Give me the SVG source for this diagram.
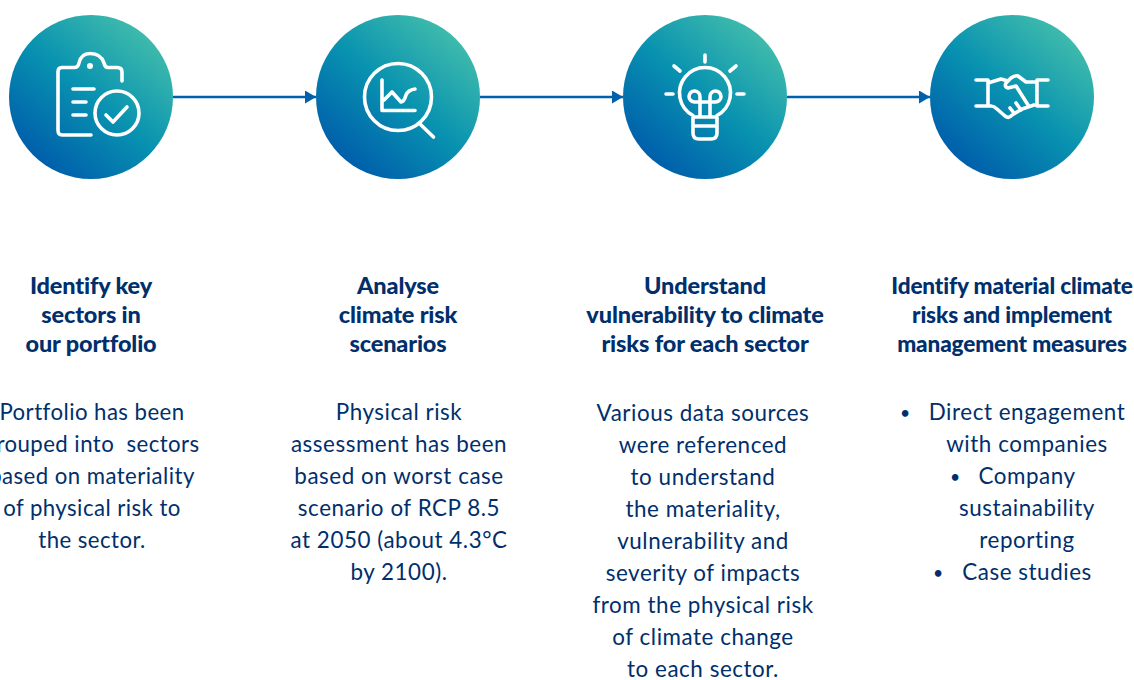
<svg xmlns="http://www.w3.org/2000/svg" width="1134" height="680" viewBox="0 0 1134 680">
<style>
.ic{fill:none;stroke:#fff;stroke-width:3.6;stroke-linecap:round;stroke-linejoin:round}
.t{font-family:Lato,"Open Sans",sans-serif;font-weight:900;font-size:23.5px;fill:#002f6c;text-anchor:middle;letter-spacing:-.15px}
.t4{font-size:22.6px}
.b{font-family:Lato,"Open Sans",sans-serif;font-size:22.4px;fill:#002f6c;text-anchor:middle;letter-spacing:.55px}
.b1{font-size:22.2px;letter-spacing:.45px}
.d{font-family:Lato,"Open Sans",sans-serif;font-size:15px;font-weight:700;fill:#002f6c;text-anchor:middle}
.c{stroke:#0060ab;stroke-width:2.6;fill:none}
</style>
<defs>
<linearGradient id="g" x1="0.2" y1="0.9" x2="0.85" y2="0.13">
<stop offset="0" stop-color="#005fab"/><stop offset="0.5" stop-color="#0892b0"/><stop offset="1" stop-color="#3fbbac"/>
</linearGradient>
<marker id="a" markerUnits="userSpaceOnUse" markerWidth="12" markerHeight="14" refX="11" refY="6.500" orient="auto"><path d="M0 0L11 6.500L0 13Z" fill="#0060ab"/></marker>
</defs>
<g id="connectors">
<path class="c" d="M173 97H316" marker-end="url(#a)"/>
<path class="c" d="M480 97H623" marker-end="url(#a)"/>
<path class="c" d="M787 97H930" marker-end="url(#a)"/>
</g>
<g id="node1">
<circle cx="91" cy="97" r="82" fill="url(#g)"/>
<path class="ic" d="M122 81V72Q122 67.500 117 67.500H108Q105 67.500 104 63Q101 53.500 90 53.500Q81 53.500 79 63Q78 67.500 75 67.500H62Q58 67.500 58 72V130Q58 135 62 135H91"/>
<circle cx="90" cy="66" r="3" fill="#fff"/>
<path class="ic" d="M73 89H94M73 102H86M73 115H86"/>
<circle class="ic" cx="117" cy="113" r="22"/>
<path class="ic" d="M106 115L113 122L127 107"/>
<text class="t" x="91" y="294">Identify key</text>
<text class="t" x="91" y="323">sectors in</text>
<text class="t" x="91" y="352">our portfolio</text>
<text class="b b1" x="92" y="420">Portfolio has been</text>
<text class="b b1" x="92" y="452" xml:space="preserve">grouped into  sectors</text>
<text class="b b1" x="92" y="484">based on materiality</text>
<text class="b b1" x="92" y="516">of physical risk to</text>
<text class="b b1" x="92" y="548">the sector.</text>
</g>
<g id="node2">
<circle cx="398" cy="97" r="82" fill="url(#g)"/>
<circle class="ic" cx="398" cy="97" r="33.500"/>
<path class="ic" d="M420 124L433.500 137M382 80V110.500H415M384 100L392 92L401 102Q404 102 406 95Q408 90 415 89"/>
<text class="t" x="398" y="294">Analyse</text>
<text class="t" x="398" y="323">climate risk</text>
<text class="t" x="398" y="352">scenarios</text>
<text class="b" x="399" y="420">Physical risk</text>
<text class="b" x="399" y="452">assessment has been</text>
<text class="b" x="399" y="484">based on worst case</text>
<text class="b" x="399" y="516">scenario of RCP 8.5</text>
<text class="b" x="399" y="548">at 2050 (about 4.3°C</text>
<text class="b" x="399" y="580">by 2100).</text>
</g>
<g id="node3">
<circle cx="705" cy="97" r="82" fill="url(#g)"/>
<path class="ic" d="M693 115.500A25.500 25.500 0 1 1 717 115.500V133Q717 139 711 139H699Q693 139 693 133ZM693 117H717M693 126H717M700 117V97A5.500 5.500 0 1 0 694.500 102H715.500A5.500 5.500 0 1 0 710 97V117M705 55V62M666 94H673M737 94H744M674 66L680 71M730 71L736 66"/>
<text class="t" x="705" y="294">Understand</text>
<text class="t" x="705" y="323">vulnerability to climate</text>
<text class="t" x="705" y="352">risks for each sector</text>
<text class="b" x="703" y="421">Various data sources</text>
<text class="b" x="703" y="453">were referenced</text>
<text class="b" x="703" y="485">to understand</text>
<text class="b" x="703" y="517">the materiality,</text>
<text class="b" x="703" y="549">vulnerability and</text>
<text class="b" x="703" y="581">severity of impacts</text>
<text class="b" x="703" y="613">from the physical risk</text>
<text class="b" x="703" y="645">of climate change</text>
<text class="b" x="703" y="677">to each sector.</text>
</g>
<g id="node4">
<circle cx="1012" cy="97" r="82" fill="url(#g)"/>
<path class="ic" d="M976 80H988V106M976 106H991Q994 106 997 109L1005 116Q1009 119 1012 115L1022 109L1034 105H1037V80H1048M1037 106H1048M988 83L1001 79L1008 81M1037 82L1026 82L1018 76Q1015 75 1011 78L1006 83Q1004 87 1008 88L1016 86L1028 105M1014 113L1010 108M1021 110L1016 103"/>
<text class="t t4" x="1012" y="294">Identify material climate</text>
<text class="t t4" x="1012" y="323">risks and implement</text>
<text class="t t4" x="1012" y="352">management measures</text>
<text class="b" x="1027" y="420">Direct engagement</text>
<text class="d" x="905" y="418">•</text>
<text class="b" x="1027" y="452">with companies</text>
<text class="b" x="1027" y="484">Company</text>
<text class="d" x="955" y="482">•</text>
<text class="b" x="1027" y="516">sustainability</text>
<text class="b" x="1027" y="548">reporting</text>
<text class="b" x="1027" y="580">Case studies</text>
<text class="d" x="938" y="578">•</text>
</g>
</svg>
